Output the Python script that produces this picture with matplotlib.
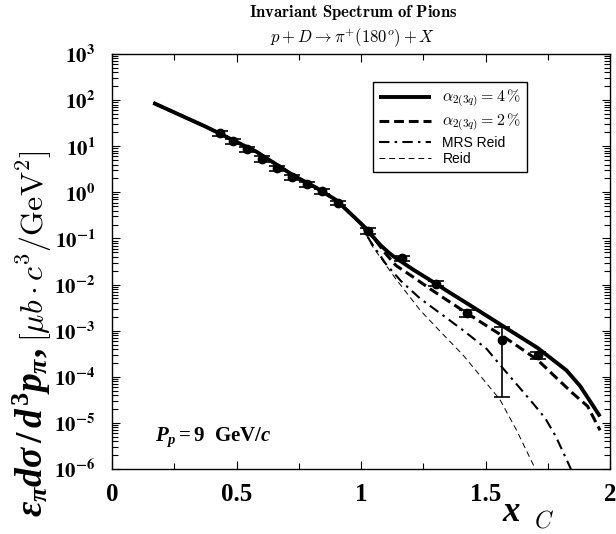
"""Invariant spectrum of pions, p + D -> pi+(180 deg) + X, at P_p = 9 GeV/c.

Output:
    out.png
"""

import matplotlib
matplotlib.use("Agg")
import matplotlib.pyplot as plt
import matplotlib.ticker as mticker
import numpy as np

plt.rcParams["mathtext.fontset"] = "stix"
# "custom" math font = bold Times, used for the bold-italic formula pieces
plt.rcParams["mathtext.rm"] = "Liberation Serif:bold"
plt.rcParams["mathtext.it"] = "Liberation Serif:italic:bold"
plt.rcParams["mathtext.bf"] = "Liberation Serif:bold"

# ---------------------------------------------------------------------------
# Data
# ---------------------------------------------------------------------------

# shared part of all four curves (below x_C ~ 1 they lie on top of each other)
head_x = [0.166, 0.38, 0.58, 0.73, 0.82, 0.90, 0.97]
head_y = [87, 26, 7.6, 2.3, 1.26, 0.68, 0.30]

a4_x = [1.02, 1.06, 1.08, 1.11, 1.13, 1.16, 1.21, 1.30, 1.34, 1.44, 1.57, 1.71, 1.825,
        1.88, 1.96]
a4_y = [0.166, 0.092, 0.070, 0.050, 0.041, 0.032, 0.021, 0.0105, 0.0076, 3.5e-3, 1.26e-3,
        4.2e-4, 1.38e-4, 6.3e-5, 1.38e-5]

a2_x = [1.02, 1.06, 1.10, 1.14, 1.21, 1.28, 1.34, 1.42, 1.50, 1.57, 1.64, 1.71, 1.78,
        1.85, 1.91, 1.96]
a2_y = [0.162, 0.089, 0.046, 0.026, 0.0145, 7.9e-3, 4.8e-3, 2.5e-3, 1.32e-3, 7.6e-4,
        4.2e-4, 2.3e-4, 1.0e-4, 4.4e-5, 2.3e-5, 6.9e-6]

mrs_x = [1.00, 1.036, 1.10, 1.16, 1.237, 1.337, 1.41, 1.505, 1.558, 1.692, 1.74, 1.783, 1.843]
mrs_y = [0.21, 0.089, 0.028, 0.012, 5.0e-3, 2.0e-3, 1.02e-3, 4.0e-4, 1.82e-4, 2.6e-5,
         1.26e-5, 5.0e-6, 1.0e-6]

reid_x = [1.00, 1.043, 1.14, 1.237, 1.31, 1.41, 1.49, 1.558, 1.625, 1.70]
reid_y = [0.20, 0.071, 0.0132, 2.8e-3, 1.07e-3, 2.95e-4, 8.9e-5, 3.2e-5, 6.9e-6, 1.0e-6]

# measured points with lower / upper ends of the error bars
data_x = [0.434, 0.487, 0.543, 0.601, 0.661, 0.722, 0.782, 0.842, 0.909, 1.029,
          1.163, 1.300, 1.424, 1.565, 1.712]
data_y = [19, 13, 8.6, 5.3, 3.3, 2.1, 1.5, 1.07, 0.59, 0.147,
          0.037, 0.0104, 0.00237, 0.00063, 0.000295]
data_lo = [16.5, 11.3, 7.5, 4.6, 2.9, 1.83, 1.31, 0.94, 0.52, 0.128,
           0.032, 0.0091, 0.00200, 0.000036, 0.000245]
data_hi = [21.5, 14.7, 9.7, 6.0, 3.7, 2.37, 1.69, 1.20, 0.66, 0.166,
           0.042, 0.0117, 0.00275, 0.0012, 0.000350]

x_ticks = [0, 0.5, 1, 1.5, 2]
x_tick_labels = ["0", "0.5", "1", "1.5", "2"]
y_exponents = [3, 2, 1, 0, -1, -2, -3, -4, -5, -6]

legend_labels = [r"$\alpha_{2(3q)} = 4\,\%$", r"$\alpha_{2(3q)} = 2\,\%$", "MRS Reid", "Reid"]


def _with_head(tail_x, tail_y):
    return head_x + tail_x, head_y + tail_y


# ---------------------------------------------------------------------------
# Figure
# ---------------------------------------------------------------------------

fig = plt.figure(figsize=(6.16, 5.34), dpi=100)
ax = fig.add_axes([112 / 616, 1 - 469 / 534, 498 / 616, 415 / 534])
ax.set_yscale("log")
ax.set_xlim(0, 2)
ax.set_ylim(1e-6, 1e3)

curves = [
    (a4_x, a4_y, dict(lw=2.8, ls="-")),
    (a2_x, a2_y, dict(lw=2.2, ls=(0, (3.2, 1.6)))),
    (mrs_x, mrs_y, dict(lw=1.5, ls=(0, (5, 2.5, 1.2, 2.5)))),
    (reid_x, reid_y, dict(lw=0.7, ls=(0, (6, 4)))),
]
handles = []
for (cx, cy, style), label in zip(curves, legend_labels):
    xs, ys = _with_head(cx, cy)
    line, = ax.plot(xs, ys, color="black", solid_capstyle="butt", label=label, **style)
    handles.append(line)

y_arr = np.array(data_y)
yerr = [y_arr - np.array(data_lo), np.array(data_hi) - y_arr]
ax.errorbar(data_x, data_y, yerr=yerr, fmt="o", color="black", ms=6,
            elinewidth=1.2, capsize=6, capthick=1.2, zorder=5)

# ticks: inward on all four sides
ax.set_xticks(x_ticks)
ax.set_xticklabels(x_tick_labels, fontfamily="Liberation Serif", fontweight="bold", fontsize=18)
ax.xaxis.set_minor_locator(mticker.MultipleLocator(0.25))
ax.set_yticks([10.0 ** e for e in y_exponents])
ax.set_yticklabels([r"$\mathbf{10^{%d}}$" % e for e in y_exponents], fontsize=15)
ax.yaxis.set_minor_locator(mticker.LogLocator(base=10, subs=np.arange(2, 10), numticks=20))
ax.yaxis.set_minor_formatter(mticker.NullFormatter())
ax.tick_params(which="both", direction="in", top=True, right=True, width=0.8)
ax.tick_params(which="major", length=6)
ax.tick_params(which="minor", length=4)
ax.tick_params(axis="x", which="major", pad=10)
ax.tick_params(axis="y", which="major", pad=12)
for spine in ax.spines.values():
    spine.set_linewidth(1.0)

leg = ax.legend(handles=handles, loc="upper right", bbox_to_anchor=(0.833, 0.933),
                borderaxespad=0, fancybox=False, edgecolor="black", framealpha=1,
                handlelength=3.8, borderpad=0.4, labelspacing=0.15, handletextpad=0.8,
                prop={"family": "Liberation Sans", "size": 10})
leg.get_frame().set_linewidth(1.0)
for t in leg.get_texts():
    t.set_math_fontfamily("cm")
    if t.get_text().startswith("$"):
        t.set_fontsize(11.5)

ax.text(0.087, 0.077, r"$P_p = 9\;\ \mathrm{GeV}/c$", transform=ax.transAxes,
        fontsize=15, math_fontfamily="custom", ha="left", va="center")

# titles
fig.text(353 / 616, 1 - 13 / 534, r"$\mathbf{Invariant\ Spectrum\ of\ Pions}$",
         math_fontfamily="cm", fontsize=12, ha="center", va="center")
fig.text(353 / 616, 1 - 38 / 534, r"$p + D \to \pi^{+}(180^{o}) + X$",
         math_fontfamily="cm", fontsize=12, ha="center", va="center")

# x label: big bold x, light italic C
fig.text(502 / 616, 1 - 511 / 534, r"$x$", math_fontfamily="custom", fontsize=25,
         ha="left", va="center")
fig.text(534 / 616, 1 - 521 / 534, r"$C$", math_fontfamily="cm", fontsize=17,
         ha="left", va="center")

# y label in two pieces: bold formula, then the normal-weight unit bracket above it
ylab1 = fig.text(32 / 616, 1 - 517 / 534, r"$\varepsilon_\pi d\sigma\,/\,d^3p_\pi,$",
                 math_fontfamily="custom", fontsize=27, rotation=90,
                 ha="center", va="bottom")
fig.canvas.draw()
bb = ylab1.get_window_extent(fig.canvas.get_renderer())
fig.text(34 / 616, (bb.y1 + 6) / fig.bbox.height, r"$[\mu b\cdot c^3/\mathrm{GeV}^2]$",
         math_fontfamily="cm", fontsize=23, rotation=90, ha="center", va="bottom")

fig.savefig("out.png", dpi=100)
plt.close(fig)
